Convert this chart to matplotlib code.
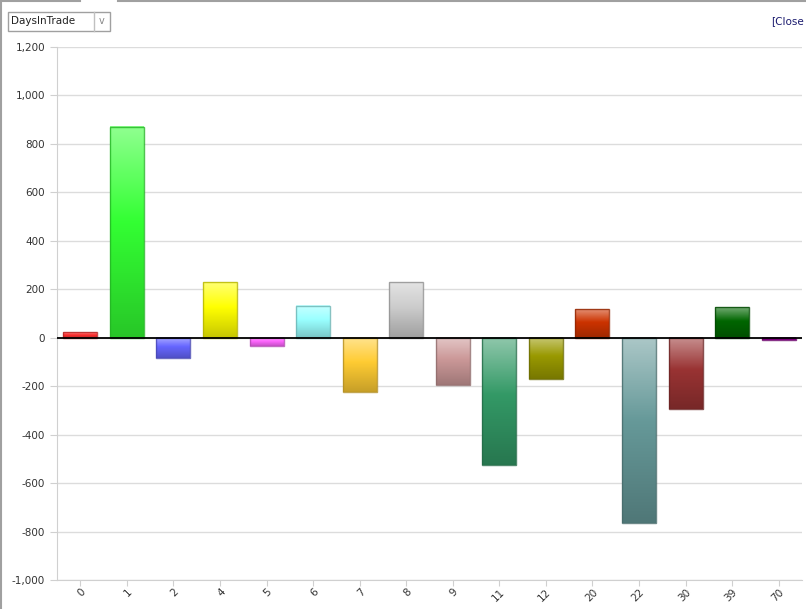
import matplotlib
matplotlib.use('Agg')
import matplotlib.pyplot as plt
import numpy as np
from matplotlib.colors import to_rgb
from matplotlib.lines import Line2D
from matplotlib.patches import Rectangle
from matplotlib.ticker import FuncFormatter, MultipleLocator

# data
days = ['0', '1', '2', '4', '5', '6', '7', '8', '9', '11', '12', '20', '22', '30', '39', '70']
values = [22, 871, -84, 231, -35, 133, -224, 231, -195, -525, -171, 117, -765, -294, 126, -10]
colors = ['#ff3030', '#33ff33', '#6666ff', '#ffff00', '#ff66ff', '#99ffff', '#ffcc33', '#cccccc',
          '#cc9999', '#339966', '#999900', '#cc3300', '#669999', '#993333', '#006600', '#990099']


def mix(c, other, t):
    c = np.array(to_rgb(c))
    return c * (1 - t) + np.array(other) * t


def grad(c, n=64):
    top = mix(c, (1, 1, 1), 0.45)
    mid = np.array(to_rgb(c))
    bot = mix(c, (0, 0, 0), 0.22)
    s = np.linspace(0, 1, n)
    out = np.zeros((n, 1, 3))
    for i, v in enumerate(s):
        if v < 0.45:
            t = v / 0.45
            out[i, 0] = top * (1 - t) + mid * t
        else:
            t = (v - 0.45) / 0.55
            out[i, 0] = mid * (1 - t) + bot * t
    return out


fig = plt.figure(figsize=(8.06, 6.09), dpi=100)
ax = fig.add_axes([57 / 806, 29 / 609, 745 / 806, 533 / 609])

x = np.arange(len(days))
w = 0.73
for i, (v, c) in enumerate(zip(values, colors)):
    lo, hi = min(0, v), max(0, v)
    ax.imshow(grad(c), extent=(i - w / 2, i + w / 2, lo, hi), aspect='auto',
              origin='upper', zorder=3, interpolation='bilinear')
    ax.add_patch(Rectangle((i - w / 2, lo), w, hi - lo, fill=False,
                           edgecolor=mix(c, (0, 0, 0), 0.3), linewidth=1, alpha=0.8, zorder=4))

ax.set_xlim(-0.5, len(days) - 0.5)
ax.set_ylim(-1000, 1200)
ax.axhline(0, color='black', linewidth=1.3, zorder=5)

ax.yaxis.set_major_locator(MultipleLocator(200))
ax.yaxis.set_major_formatter(FuncFormatter(lambda v, p: f'{int(v):,}'))
ax.grid(axis='y', color='#dcdcdc', linewidth=1, zorder=0)
ax.set_axisbelow(True)

ax.set_xticks(x)
ax.set_xticklabels(days, rotation=45, ha='right', rotation_mode='anchor')
ax.tick_params(axis='both', colors='#d0d0d0', labelcolor='#333333', labelsize=7.5, length=5)
ax.tick_params(axis='x', length=4, pad=1)

for s in ['top', 'right']:
    ax.spines[s].set_visible(False)
for s in ['left', 'bottom']:
    ax.spines[s].set_color('#d0d0d0')

# frame bits around the panel
fig.add_artist(Line2D([1 / 806, 1 / 806], [0, 1], color='#a0a0a0', linewidth=1.5))
fig.add_artist(Line2D([0, 80 / 806], [1 - 1 / 609, 1 - 1 / 609], color='#a0a0a0', linewidth=1.5))
fig.add_artist(Line2D([118 / 806, 1], [1 - 1 / 609, 1 - 1 / 609], color='#a0a0a0', linewidth=1.5))

# dropdown
fig.add_artist(Rectangle((8 / 806, 1 - 31 / 609), 102 / 806, 19 / 609, fill=False,
                         edgecolor='#a0a0a0', linewidth=1, transform=fig.transFigure))
fig.add_artist(Line2D([94 / 806, 94 / 806], [1 - 31 / 609, 1 - 12 / 609], color='#c0c0c0', linewidth=1))
fig.text(11 / 806, 1 - 21.5 / 609, 'DaysInTrade', fontsize=7.5, color='#222222', va='center')
fig.text(102 / 806, 1 - 21.5 / 609, 'v', fontsize=7, color='#888888', va='center', ha='center')
fig.text(771 / 806, 1 - 21.5 / 609, '[Close', fontsize=7.5, color='#1a1a6e', va='center')

plt.savefig('out.png', dpi=100)
